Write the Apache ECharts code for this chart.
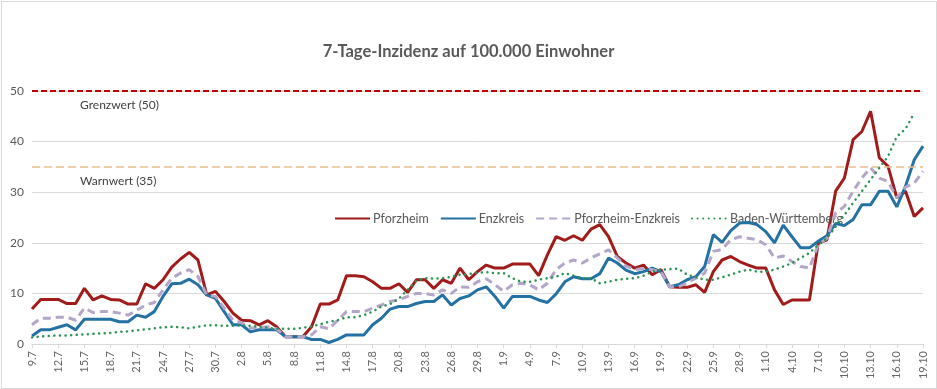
<!DOCTYPE html>
<html>
<head>
<meta charset="utf-8">
<script src="https://cdn.jsdelivr.net/npm/echarts@6/dist/echarts.min.js"></script>
<style>
html,body{margin:0;padding:0;background:#fff;}
#c{width:937px;height:389px;position:relative;}
#frame{position:absolute;left:1px;top:1px;width:934px;height:386px;border:1px solid #D9D9D9;pointer-events:none;}
</style>
</head>
<body>
<div id="c"></div>
<div id="frame"></div>
<script>
const titleText = '7-Tage-Inzidenz auf 100.000 Einwohner';
const seriesNames = ['Pforzheim', 'Enzkreis', 'Pforzheim-Enzkreis', 'Baden-Württemberg'];

// dates 9.7 .. 19.10 (daily)
const dates = [
 '9.7','10.7','11.7','12.7','13.7','14.7','15.7','16.7','17.7','18.7','19.7','20.7','21.7','22.7','23.7','24.7','25.7','26.7','27.7','28.7','29.7','30.7','31.7',
 '1.8','2.8','3.8','4.8','5.8','6.8','7.8','8.8','9.8','10.8','11.8','12.8','13.8','14.8','15.8','16.8','17.8','18.8','19.8','20.8','21.8','22.8','23.8','24.8','25.8','26.8','27.8','28.8','29.8','30.8','31.8',
 '1.9','2.9','3.9','4.9','5.9','6.9','7.9','8.9','9.9','10.9','11.9','12.9','13.9','14.9','15.9','16.9','17.9','18.9','19.9','20.9','21.9','22.9','23.9','24.9','25.9','26.9','27.9','28.9','29.9','30.9',
 '1.10','2.10','3.10','4.10','5.10','6.10','7.10','8.10','9.10','10.10','11.10','12.10','13.10','14.10','15.10','16.10','17.10','18.10','19.10'
];

const pforzheim = [
 6.9, 8.8, 8.8, 8.8, 8.0, 8.0, 11.0, 8.7, 9.5, 8.8,
 8.7, 7.9, 7.9, 11.9, 11.0, 12.7, 15.2, 16.8, 18.1, 16.6,
 9.7, 10.4, 8.4, 6.1, 4.7, 4.6, 3.8, 4.6, 3.4, 1.45,
 1.45, 1.45, 3.4, 7.9, 7.9, 8.7, 13.5, 13.5, 13.3, 12.3,
 11.0, 11.0, 11.9, 10.2, 12.7, 12.7, 11.0, 12.7, 12.0, 15.0,
 12.7, 14.3, 15.6, 15.0, 15.0, 15.8, 15.8, 15.8, 13.5, 17.6,
 21.2, 20.5, 21.4, 20.5, 22.7, 23.6, 21.2, 17.3, 16.0, 15.0,
 15.6, 13.7, 14.7, 11.3, 11.2, 11.2, 11.7, 10.2, 14.3, 16.6,
 17.3, 16.3, 15.6, 15.0, 15.0, 10.7, 7.8, 8.7, 8.7, 8.7,
 19.9, 20.6, 30.2, 32.8, 40.4, 42.0, 46.0, 36.8, 35.1, 28.9,
 30.2, 25.2, 26.9
];

const enzkreis = [
 1.6, 2.8, 2.8, 3.3, 3.8, 2.8, 4.9, 4.9, 4.9, 4.9,
 4.4, 4.4, 5.7, 5.3, 6.4, 9.4, 11.9, 12.0, 12.8, 11.7,
 9.7, 9.0, 6.4, 3.8, 3.8, 2.4, 2.8, 2.8, 2.8, 1.45,
 1.45, 1.45, 0.9, 0.9, 0.3, 0.9, 1.8, 1.8, 1.8, 3.8,
 5.1, 6.9, 7.4, 7.4, 8.0, 8.4, 8.4, 9.7, 7.7, 9.0,
 9.5, 10.7, 11.3, 9.4, 7.1, 9.4, 9.4, 9.4, 8.7, 8.2,
 9.9, 12.3, 13.3, 12.9, 12.9, 13.9, 17.0, 16.0, 14.6, 13.9,
 14.3, 15.0, 14.3, 11.3, 11.7, 12.7, 13.3, 15.3, 21.6, 20.1,
 22.4, 23.9, 24.0, 23.6, 22.2, 20.0, 23.5, 21.2, 19.0, 19.0,
 20.3, 21.4, 23.8, 23.4, 24.6, 27.5, 27.5, 30.2, 30.2, 27.1,
 31.2, 36.4, 39.1
];

const pfEnz = [
 3.8, 5.1, 5.1, 5.3, 5.3, 4.7, 7.1, 6.2, 6.4, 6.4,
 6.1, 5.7, 6.7, 7.7, 8.2, 10.7, 13.0, 14.0, 14.7, 13.3,
 9.7, 9.4, 7.1, 4.7, 4.2, 3.1, 3.3, 3.4, 3.0, 1.45,
 1.45, 1.45, 1.8, 3.4, 3.0, 4.7, 6.4, 6.4, 6.4, 7.1,
 7.7, 8.4, 8.7, 9.4, 10.0, 10.0, 9.7, 10.7, 10.0, 11.3,
 11.2, 12.3, 12.9, 11.7, 10.4, 11.7, 12.0, 11.7, 10.7, 12.0,
 14.7, 16.0, 16.6, 16.0, 17.0, 17.8, 18.6, 17.0, 15.4, 14.7,
 14.9, 14.7, 14.3, 11.3, 11.3, 12.1, 13.0, 14.0, 18.3, 18.7,
 20.6, 21.2, 20.9, 20.6, 19.6, 17.0, 17.4, 16.3, 15.3, 15.0,
 19.6, 20.9, 25.9, 27.2, 30.2, 32.8, 34.8, 32.8, 32.1, 28.9,
 31.0, 31.8, 34.1
];

const badenWuerttemberg = [
 1.3, 1.5, 1.6, 1.7, 1.7, 1.8, 1.9, 2.0, 2.1, 2.2,
 2.4, 2.5, 2.7, 2.9, 3.1, 3.3, 3.4, 3.3, 3.1, 3.4,
 3.7, 3.7, 3.6, 3.6, 3.7, 3.6, 3.4, 3.2, 3.0, 3.0,
 3.0, 3.2, 3.5, 3.9, 4.4, 4.7, 5.3, 5.3, 5.7, 6.4,
 7.4, 7.9, 9.0, 10.7, 12.5, 13.0, 12.9, 13.0, 13.3, 13.7,
 13.8, 14.1, 14.2, 14.0, 14.0, 13.0, 12.3, 12.3, 12.7, 13.0,
 13.3, 14.0, 13.5, 13.0, 13.0, 12.0, 12.3, 12.7, 12.9, 13.0,
 13.5, 14.3, 14.7, 14.8, 14.9, 13.7, 13.2, 12.7, 12.7, 13.2,
 13.7, 14.3, 14.7, 14.3, 14.3, 14.7, 15.3, 16.0, 17.0, 18.0,
 19.6, 20.9, 23.2, 25.5, 27.9, 30.2, 32.5, 34.8, 37.1, 41.0,
 42.5, 45.7, null
];

const yTicks = [0, 10, 20, 30, 40, 50];
const thresholds = [
 {value: 50, label: 'Grenzwert (50)'},
 {value: 35, label: 'Warnwert (35)'}
];

const FONT = 'Lato, "Open Sans", sans-serif';
const chart = echarts.init(document.getElementById('c'), null, {renderer: 'canvas'});

chart.setOption({
  animation: false,
  backgroundColor: '#ffffff',
  textStyle: {fontFamily: FONT},
  title: {
    text: titleText,
    left: 'center',
    top: 38,
    textStyle: {fontFamily: FONT, fontSize: 16.5, fontWeight: 'bold', color: '#595959'}
  },
  legend: {
    data: seriesNames,
    left: 329,
    top: 207,
    itemWidth: 35,
    itemHeight: 14,
    itemGap: 11,
    itemStyle: {opacity: 0},
    textStyle: {fontFamily: FONT, fontSize: 12.5, color: '#595959', padding: [0, 0, 0, -2]}
  },
  grid: {left: 32, right: 14, top: 91, bottom: 45, containLabel: false},
  xAxis: {
    type: 'category',
    data: dates,
    boundaryGap: false,
    axisLine: {lineStyle: {color: '#D9D9D9', width: 1}},
    axisTick: {show: true, interval: 2, length: 4, lineStyle: {color: '#D9D9D9'}},
    axisLabel: {interval: 2, rotate: 90, fontFamily: FONT, fontSize: 11, color: '#666666', margin: 7},
    splitLine: {show: false}
  },
  yAxis: {
    type: 'value',
    min: yTicks[0],
    max: yTicks[yTicks.length - 1],
    interval: 10,
    axisLine: {show: false},
    axisTick: {show: false},
    axisLabel: {fontFamily: FONT, fontSize: 12, color: '#595959', margin: 8},
    splitLine: {lineStyle: {color: '#D9D9D9', width: 1}}
  },
  series: [
    {
      name: seriesNames[0], type: 'line', data: pforzheim, symbol: 'none',
      lineStyle: {color: '#A11B1B', width: 3}, itemStyle: {color: '#A11B1B'},
      z: 3,
      markLine: {
        silent: true,
        symbol: ['none', 'none'],
        data: [
          {yAxis: thresholds[0].value,
           lineStyle: {color: '#C00000', type: [6, 3], width: 2},
           label: {formatter: thresholds[0].label}},
          {yAxis: thresholds[1].value,
           lineStyle: {color: '#E9BE8F', type: [8, 4], width: 1.5},
           label: {formatter: thresholds[1].label}}
        ],
        label: {position: 'insideStartBottom', distance: [48, 8], fontFamily: FONT, fontSize: 12, color: '#404040'}
      }
    },
    {
      name: seriesNames[1], type: 'line', data: enzkreis, symbol: 'none',
      lineStyle: {color: '#2471A3', width: 3}, itemStyle: {color: '#2471A3'}, z: 4
    },
    {
      name: seriesNames[2], type: 'line', data: pfEnz, symbol: 'none',
      lineStyle: {color: '#B3A6C9', width: 3, type: [8, 5]}, itemStyle: {color: '#B3A6C9'}, z: 5
    },
    {
      name: seriesNames[3], type: 'line', data: badenWuerttemberg, symbol: 'none',
      lineStyle: {color: '#2E9456', width: 2.5, type: [0.1, 5.5], cap: 'round'}, itemStyle: {color: '#2E9456'}, z: 6
    }
  ]
});
</script>
</body>
</html>
